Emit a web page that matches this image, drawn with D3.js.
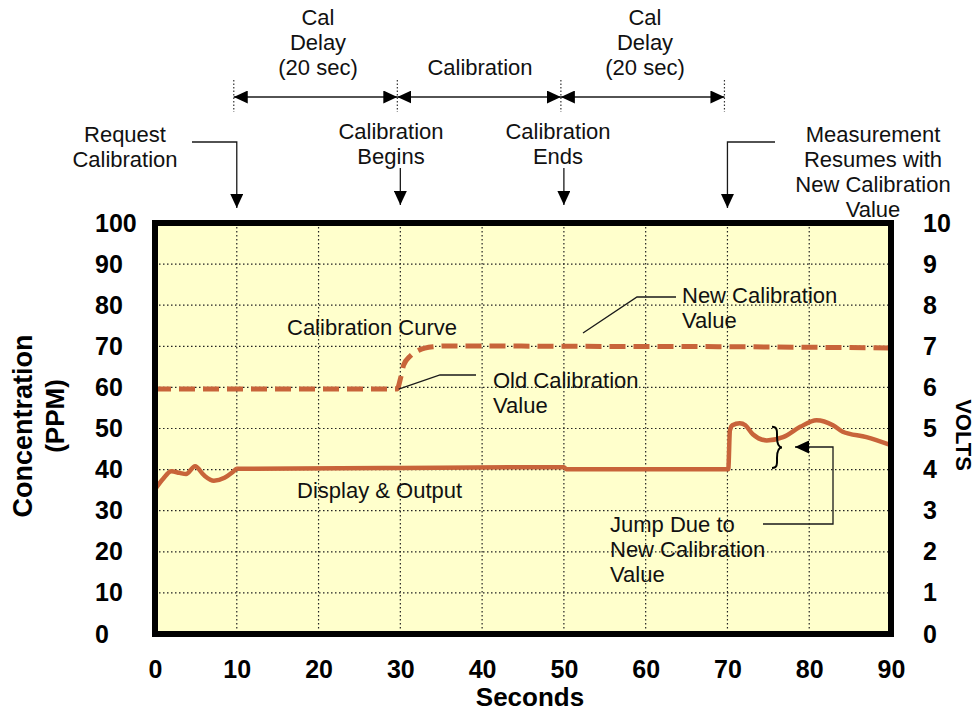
<!DOCTYPE html>
<html>
<head>
<meta charset="utf-8">
<script src="https://cdn.jsdelivr.net/npm/d3@7"></script>
<style>
  body { margin: 0; background: #fff; }
  svg { display: block; font-family: "Liberation Sans", Arial, sans-serif; }
</style>
</head>
<body>
<svg id="chart" width="975" height="712"></svg>
<script>
// ---- data ----
var secondsTicks = [0, 10, 20, 30, 40, 50, 60, 70, 80, 90];
var ppmTicks = [0, 10, 20, 30, 40, 50, 60, 70, 80, 90, 100];
var voltTicks = [0, 1, 2, 3, 4, 5, 6, 7, 8, 9, 10];

// calibration curve (dashed), [seconds, ppm]
var calCurve = [
	[0, 59.6], [29.6, 59.6], [30.0, 62], [30.4, 65.4], [31.2, 67.6], [32.2, 69.0],
	[34, 69.9], [36, 70.1], [50, 70], [70, 69.9], [90, 69.6]
];

// display & output (solid), [seconds, ppm]
var displayOut = [
	[0, 35.2], [1, 37.8], [2, 39.6], [3, 39.2], [3.8, 38.9], [4.9, 40.8], [6, 38.6],
	[7.2, 37.3], [8.5, 38], [9.5, 39.4], [10, 40.2], [30, 40.4], [50, 40.6], [50.3, 40.1],
	[70.1, 40.1], [70.3, 49.5], [70.6, 50.8], [71.5, 51.3], [72.2, 50.8], [73.1, 48.6],
	[74.8, 47.1], [76.8, 47.9], [78.9, 50.4], [80.9, 52], [82.9, 50.8], [84.1, 49.2],
	[87, 47.9], [89.9, 46]
];

// timeline phases along the top
var phases = [
	{ from: 10, to: 30, lines: ["Cal", "Delay", "(20 sec)"], cx: 318 },
	{ from: 30, to: 50, lines: ["Calibration"], cx: 480 },
	{ from: 50, to: 70, lines: ["Cal", "Delay", "(20 sec)"], cx: 645 }
];
var events = [
	{ t: 10, lines: ["Request", "Calibration"], cx: 125, top: 142, elbow: 192 },
	{ t: 30, lines: ["Calibration", "Begins"], cx: 391, top: 139 },
	{ t: 50, lines: ["Calibration", "Ends"], cx: 558, top: 139 },
	{ t: 70, lines: ["Measurement", "Resumes with", "New Calibration", "Value"], cx: 873, top: 142, elbow: 775 }
];

var width = 975, height = 712;
var svg = d3.select("#chart");

var x = d3.scaleLinear().domain([0, 90]).range([155, 891]);
var y = d3.scaleLinear().domain([0, 100]).range([634, 223]);
var yVolt = d3.scaleLinear().domain([0, 10]).range([634, 223]);

var ink = "#1a1a1a";
var orange = "#C8643A";

// arrow head
var defs = svg.append("defs");
defs.append("marker")
	.attr("id", "head")
	.attr("markerUnits", "userSpaceOnUse")
	.attr("markerWidth", 15).attr("markerHeight", 13)
	.attr("refX", 14).attr("refY", 6.5)
	.attr("orient", "auto-start-reverse")
	.append("path")
	.attr("d", "M0,0 L14,6.5 L0,13 Z")
	.attr("fill", "#000");

// plot background
svg.append("rect")
	.attr("x", x(0)).attr("y", y(100))
	.attr("width", x(90) - x(0)).attr("height", y(0) - y(100))
	.attr("fill", "#FFFFCC");

// grid
var grid = svg.append("g").attr("class", "grid");
grid.selectAll(".vgrid")
	.data(secondsTicks.slice(1, -1))
	.enter().append("line")
	.attr("x1", function(d) { return x(d); }).attr("x2", function(d) { return x(d); })
	.attr("y1", y(100)).attr("y2", y(0));
grid.selectAll(".hgrid")
	.data(ppmTicks.slice(1, -1))
	.enter().append("line")
	.attr("x1", x(0)).attr("x2", x(90))
	.attr("y1", function(d) { return y(d); }).attr("y2", function(d) { return y(d); });
grid.selectAll("line")
	.attr("stroke", "#222")
	.attr("stroke-width", 1.2)
	.attr("stroke-dasharray", "1.5,2.5");

// curves
var line = d3.line()
	.x(function(d) { return x(d[0]); })
	.y(function(d) { return y(d[1]); })
	.curve(d3.curveMonotoneX);

svg.append("path")
	.datum(calCurve)
	.attr("d", line)
	.attr("fill", "none")
	.attr("stroke", orange)
	.attr("stroke-width", 5)
	.attr("stroke-dasharray", "16,8");

svg.append("path")
	.datum(displayOut)
	.attr("d", line)
	.attr("fill", "none")
	.attr("stroke", orange)
	.attr("stroke-width", 4.5)
	.attr("stroke-linejoin", "round");

// frame
svg.append("rect")
	.attr("x", x(0)).attr("y", y(100))
	.attr("width", x(90) - x(0)).attr("height", y(0) - y(100))
	.attr("fill", "none")
	.attr("stroke", "#000")
	.attr("stroke-width", 6);

// axes
function styleAxis(g) {
	g.select(".domain").remove();
	g.selectAll("text")
		.attr("fill", "#000")
		.style("font-family", "'Liberation Sans', Arial, sans-serif")
		.style("font-weight", "bold")
		.style("font-size", "25px");
}

svg.append("g")
	.attr("transform", "translate(95,0)")
	.call(d3.axisLeft(y).tickValues(ppmTicks).tickSize(0).tickPadding(0))
	.call(styleAxis)
	.selectAll("text").attr("text-anchor", "start").attr("x", 0);

svg.append("g")
	.attr("transform", "translate(923,0)")
	.call(d3.axisRight(yVolt).tickValues(voltTicks).tickSize(0).tickPadding(0))
	.call(styleAxis)
	.selectAll("text").attr("text-anchor", "start").attr("x", 0);

svg.append("g")
	.attr("transform", "translate(0,660)")
	.call(d3.axisBottom(x).tickValues(secondsTicks).tickSize(0).tickPadding(0))
	.call(styleAxis);

// axis titles
var bold = function(sel, size) {
	return sel.attr("fill", "#000").style("font-weight", "bold").style("font-size", size + "px");
};
bold(svg.append("text"), 26)
	.attr("x", 530).attr("y", 706)
	.attr("text-anchor", "middle")
	.text("Seconds");
bold(svg.append("text"), 27)
	.attr("transform", "translate(32,426) rotate(-90)")
	.attr("text-anchor", "middle")
	.text("Concentration");
bold(svg.append("text"), 26)
	.attr("transform", "translate(64,416) rotate(-90)")
	.attr("text-anchor", "middle")
	.text("(PPM)");
bold(svg.append("text"), 22)
	.attr("transform", "translate(956,435) rotate(90)")
	.attr("text-anchor", "middle")
	.text("VOLTS");

// multi-line label helper
function label(lines, px, py, anchor) {
	var t = svg.append("text")
		.attr("fill", "#111")
		.style("font-size", "22px")
		.attr("text-anchor", anchor || "middle");
	lines.forEach(function(s, i) {
		t.append("tspan").attr("x", px).attr("y", py + i * 25).text(s);
	});
	return t;
}

function leader(points, arrow) {
	var p = svg.append("path")
		.attr("d", d3.line()(points))
		.attr("fill", "none")
		.attr("stroke", ink)
		.attr("stroke-width", 1.3);
	if (arrow) p.attr("marker-end", "url(#head)");
	return p;
}

// timeline across the top
var timeMarks = [10, 30, 50, 70];
svg.selectAll(".tick-dot")
	.data(timeMarks)
	.enter().append("line")
	.attr("x1", function(d) { return x(d) - 3; }).attr("x2", function(d) { return x(d) - 3; })
	.attr("y1", 80).attr("y2", 112)
	.attr("stroke", "#333")
	.attr("stroke-width", 1.2)
	.attr("stroke-dasharray", "1.5,2");

phases.forEach(function(p) {
	svg.append("line")
		.attr("x1", x(p.from) - 3).attr("x2", x(p.to) - 3)
		.attr("y1", 97).attr("y2", 97)
		.attr("stroke", ink)
		.attr("stroke-width", 1.3)
		.attr("marker-start", "url(#head)")
		.attr("marker-end", "url(#head)");
	label(p.lines, p.cx, 75 - (p.lines.length - 1) * 25);
});

events.forEach(function(e) {
	label(e.lines, e.cx, e.top);
	var ax = x(e.t);
	if (e.elbow) {
		leader([[e.elbow, 142], [ax, 142], [ax, 208]], true);
	} else {
		leader([[ax, 168], [ax, 205]], true);
	}
});

// annotations inside the plot
label(["Calibration Curve"], 287, 335, "start");
label(["Old Calibration", "Value"], 493, 388, "start");
leader([[x(29.8), y(59.6)], [440, 375], [476, 375]]);
label(["New Calibration", "Value"], 682, 303, "start");
leader([[583, 333], [637, 297], [676, 297]]);
label(["Display & Output"], 297, 498, "start");
label(["Jump Due to", "New Calibration", "Value"], 610, 532, "start");
leader([[763, 524], [833, 524], [833, 447], [795, 447]], true);

// brace marking the jump
var bx = 772, bt = y(50.4), bb = y(40.4), bm = (bt + bb) / 2;
svg.append("path")
	.attr("d", "M" + bx + "," + bt +
		" C" + (bx + 6) + "," + bt + " " + (bx + 5) + "," + (bt + 5) + " " + (bx + 5) + "," + (bt + 10) +
		" C" + (bx + 5) + "," + (bm - 4) + " " + (bx + 6) + "," + bm + " " + (bx + 10) + "," + bm +
		" C" + (bx + 6) + "," + bm + " " + (bx + 5) + "," + (bm + 4) + " " + (bx + 5) + "," + (bb - 10) +
		" C" + (bx + 5) + "," + (bb - 5) + " " + (bx + 6) + "," + bb + " " + bx + "," + bb)
	.attr("fill", "none")
	.attr("stroke", "#000")
	.attr("stroke-width", 2);
</script>
</body>
</html>
